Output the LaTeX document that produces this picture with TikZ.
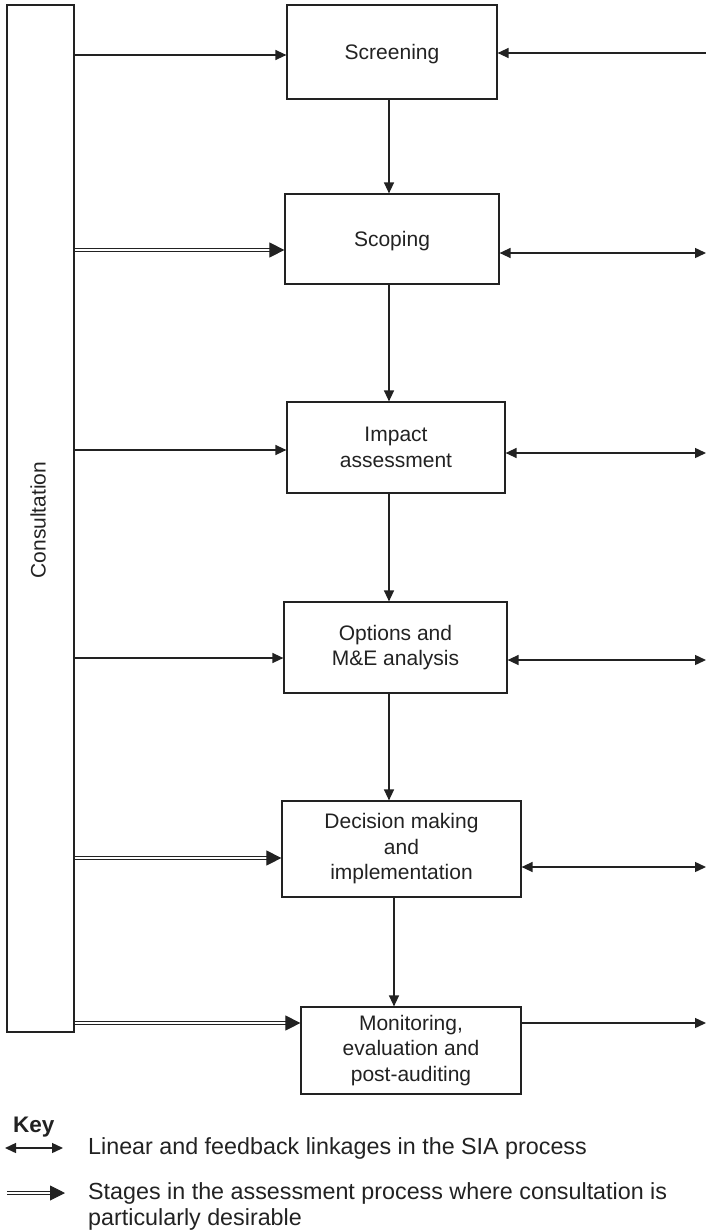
\documentclass[tikz,border=0pt]{standalone}
\usepackage{fontspec}
\setmainfont{Liberation Sans}
\usetikzlibrary{arrows.meta,calc}
\definecolor{ink}{HTML}{222222}
\begin{document}
\begin{tikzpicture}[x=1pt,y=-1pt,
  every node/.style={text=ink, font=\fontsize{21}{25.5}\selectfont},
  stage/.style={draw=ink, line width=1.2pt, inner sep=0pt, align=center},
  keytext/.style={inner sep=0pt, font=\fontsize{23.3}{26}\selectfont},
  arr/.style={draw=ink, line width=1.4pt, -{Triangle[length=11pt,width=10pt]}},
  biarr/.style={draw=ink, line width=1.4pt, {Triangle[length=11pt,width=10pt]}-{Triangle[length=11pt,width=10pt]}},
  dblarr/.style={draw=ink, line width=0.9pt, double=white, double distance=1.8pt,
    -{Triangle[length=15pt,width=15pt]}}]
\useasboundingbox (0,0) rectangle (706,1231);

% consultation column
\node[stage, minimum width=67pt, minimum height=1027pt] (cons) at (40.5,518.5) {};
\node[rotate=90] (constext) at (38,520) {Consultation};

% stages of the process
\node[stage, minimum width=210pt, minimum height=94pt, text depth=0pt] (scr) at (392,52) {Screening};
\node[stage, minimum width=214pt, minimum height=90pt, text depth=0pt] (sco) at (392,239) {Scoping};
\node[stage, minimum width=218pt, minimum height=91pt] (imp) at (396,447.5) {Impact\\assessment};
\node[stage, minimum width=223pt, minimum height=91pt] (opt) at (395.5,647.5) {Options and\\M\&E analysis};
\node[stage, minimum width=239pt, minimum height=96pt] (dec) at (401.5,849) {Decision making\\and\\implementation};
\node[stage, minimum width=220pt, minimum height=87pt] (mon) at (411,1050.5) {Monitoring,\\evaluation and\\post-auditing};

% vertical flow
\coordinate (xa) at (389,0);
\coordinate (xb) at (394,0);
\draw[arr] (scr.south -| xa) -- (sco.north -| xa);
\draw[arr] (sco.south -| xa) -- (imp.north -| xa);
\draw[arr] (imp.south -| xa) -- (opt.north -| xa);
\draw[arr] (opt.south -| xa) -- (dec.north -| xa);
\draw[arr] (dec.south -| xb) -- (mon.north -| xb);

% links from consultation
\draw[arr]    (cons.east |- 0,55)   -- (scr.west |- 0,55);
\draw[dblarr] (cons.east |- 0,250)  -- (sco.west |- 0,250);
\draw[arr]    (cons.east |- 0,450)  -- (imp.west |- 0,450);
\draw[arr]    (cons.east |- 0,658)  -- (opt.west |- 0,658);
\draw[dblarr] (cons.east |- 0,858)  -- (dec.west |- 0,858);
\draw[dblarr] (cons.east |- 0,1023) -- (mon.west |- 0,1023);

% feedback links at the right edge
\coordinate (r1) at (706,53);
\coordinate (r2) at (706,253);
\coordinate (r3) at (706,453);
\coordinate (r4) at (706,660);
\coordinate (r5) at (706,867);
\coordinate (r6) at (706,1023);
\draw[arr]   (r1) -- (scr.east |- r1);
\draw[biarr] (sco.east |- r2) -- (r2);
\draw[biarr] (imp.east |- r3) -- (r3);
\draw[biarr] (opt.east |- r4) -- (r4);
\draw[biarr] (dec.east |- r5) -- (r5);
\draw[arr]   (mon.east |- r6) -- (r6);

% key
\node[keytext, anchor=base west, font=\fontsize{22.5}{26}\selectfont\bfseries] (key) at (13,1132) {Key};
\coordinate (k1a) at (5,1148);
\coordinate (k1b) at (63,1148);
\draw[biarr] (k1a) -- (k1b);
\node[keytext, anchor=west] (kt1) at (88,1148) {Linear and feedback linkages in the SIA process};
\coordinate (k2a) at (7,1193);
\coordinate (k2b) at (65,1193);
\draw[dblarr] (k2a) -- (k2b);
\node[keytext, anchor=west, align=left] (kt2) at (88,1206)
  {Stages in the assessment process where consultation is\\particularly desirable};
\end{tikzpicture}
\end{document}
